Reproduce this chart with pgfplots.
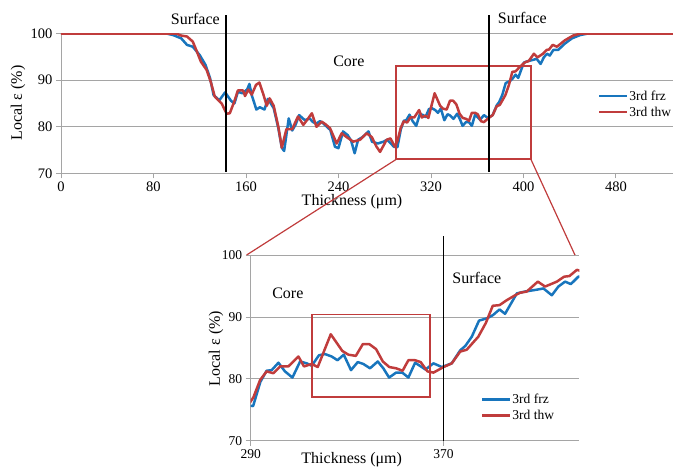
\documentclass[border=0pt]{standalone}
\usepackage{fontspec}
\setmainfont{Liberation Serif}
\usepackage{pgfplots}
\usepackage{pgfplotstable}
\pgfplotsset{compat=1.18}
\definecolor{sblue}{RGB}{24,117,189}
\definecolor{sred}{RGB}{192,60,60}
\definecolor{gridc}{RGB}{165,165,165}

\pgfplotstableread{
x y
52 100
92 100
97 99.7
104 99.0
109 97.6
114 97.2
120 95.4
125 93.3
129 90.4
132 86.8
137 85.7
142 87.4
147 85.6
150 85.0
153 87.5
157 87.2
161 88.0
163 89.2
165 86.8
169 83.7
172 84.2
176 83.7
179 86.0
184 84.0
188 79.7
191 75.5
193 74.8
197 81.8
200 79.2
203 80.5
206 82.5
211 81.4
215 81.8
218 81.0
221 80.7
224 81.2
227 80.7
233 79.3
237 75.7
240 75.4
244 79.0
248 78.2
251 77.0
254 74.3
257 77.2
261 77.8
266 79.0
269 76.8
274 76.4
279 76.8
282 77.2
285 76.5
288 75.7
291 75.6
294 79.5
296.6 81.3
298.7 81.4
301.5 82.6
304.2 81.2
307.3 80.2
310.5 82.8
313.2 82.5
315.3 82.1
318.3 83.8
320.8 84.0
323.6 83.6
326 83.0
328.6 83.9
331.6 81.4
334.4 82.7
336.7 82.4
339.5 81.7
342.7 82.8
345 81.7
347.4 80.2
350.3 81.0
352.9 81.0
355.4 80.2
358.2 82.6
362.5 81.5
365.8 82.5
369.3 81.9
373.4 82.5
376.9 84.6
379 85.3
381.7 86.8
384.7 89.4
388.2 89.8
390.5 90.3
393.2 91.2
395.5 90.5
400.4 93.8
403.8 94.1
408.7 94.4
411.4 94.6
414.9 93.5
417.6 94.9
420.4 95.7
422.8 95.3
425.9 96.5
430 96.5
436 97.9
442 99.0
449 99.7
455 100
463 100
}\frz

\pgfplotstableread{
x y
0 100
100 100
104 99.6
109 99.4
114 98.3
117 96.5
121 94.0
126 92.2
129.5 89.7
133 86.5
139 85.0
143.3 82.8
146 82.9
150 85.5
153 87.8
157.5 87.8
159.2 86.6
162 88.0
165 86.9
168.7 89.0
171.6 89.5
175 87.0
178 84.5
180.5 86.1
184 84.5
188 80.0
191 75.5
195 79.5
200 79.5
205 82.2
209.6 80.4
213 81.5
217 82.9
221 80.0
225.5 81.1
229 80.5
232.7 79.7
238.5 76.4
242.8 78.6
247 77.8
252.8 76.8
258.6 77.2
264.4 78.6
268.8 77.8
273 75.7
276 74.6
281.7 77.2
285 77.5
288.9 75.7
291.1 77.0
293.9 79.8
296.6 81.2
299.4 80.9
302.2 82.0
305.6 82.0
309.8 83.6
312.1 82.0
315.3 82.4
317.8 81.9
323.2 87.2
328 84.5
330.5 83.9
333.6 83.7
336.5 85.6
339.2 85.6
342 84.8
344.8 82.8
347.5 81.9
350.3 81.7
353 81.3
355.4 83.0
358.2 83.0
360.5 82.7
363.3 81.2
365.8 81.0
370 81.9
373.4 82.5
376.9 84.4
379.6 84.7
384.4 86.8
387.5 89.0
390.4 91.8
393.2 91.9
396.2 92.7
399.7 93.5
401.7 93.9
404.5 94.1
409.1 95.7
412.1 94.9
417 95.7
420 96.5
422.2 96.6
425.3 97.6
429 97.2
436 98.6
443 99.6
449 100
530 100
}\thw

\begin{document}
\begin{tikzpicture}
\useasboundingbox (0,0) rectangle (673pt,467pt);
\pgfplotsset{
  exstyle/.style={
    scale only axis, anchor=south west,
    axis x line*=bottom, axis y line*=left,
    axis line style={gridc, line width=0.8pt},
    tick align=outside, major tick length=5pt,
    tick style={gridc, line width=0.8pt},
    ymajorgrids, grid style={gridc, line width=0.8pt},
    ymin=70, ymax=100, ytick={70,80,90,100},
    /pgf/number format/assume math mode=true,
    legend style={draw=none, fill=none, anchor=north west, inner sep=0pt,
      row sep=3pt, cells={anchor=west}, nodes={inner sep=1pt}},
    legend image code/.code={\draw[#1, line width=2.5pt] (0pt,0pt) -- (28pt,0pt);},
    every axis plot/.append style={line width=2.5pt, line join=round},
  }
}
% ---------- top axis ----------
\begin{axis}[exstyle,
  at={(61pt,293.7pt)}, width=612pt, height=139.6pt,
  xmin=0, xmax=529.4, xtick={0,80,...,480},
  tick label style={font=\fontsize{14.5}{16}\selectfont},
  legend style={at={(rel axis cs:0.877,0.60)}, font=\fontsize{13.5}{16}\selectfont},
]
\addplot[sblue] table[x=x,y=y] {\frz};
\addlegendentry{3rd frz}
\addplot[sred] table[x=x,y=y] {\thw};
\addlegendentry{3rd thw}
\draw[sred, line width=1.8pt] (axis cs:290,73) rectangle (axis cs:406.5,93);
\coordinate (boxBL) at (axis cs:290,73);
\coordinate (boxBR) at (axis cs:406.5,73);
\coordinate (s1t) at (axis cs:142.5,104);
\coordinate (s1b) at (axis cs:142.5,70.3);
\coordinate (s2t) at (axis cs:370,104);
\coordinate (s2b) at (axis cs:370,70.3);
\coordinate (core1) at (axis cs:249,94);
\end{axis}
\draw[black, line width=1.6pt] (s1t) -- (s1b);
\draw[black, line width=1.6pt] (s2t) -- (s2b);
\node[font=\fontsize{16}{19}\selectfont, anchor=east, inner sep=0pt] at (220pt,447.7pt) {Surface};
\node[font=\fontsize{16}{19}\selectfont, anchor=west, inner sep=0pt] at (497.7pt,448.7pt) {Surface};
\node[font=\fontsize{16}{19}\selectfont] at (core1) {Core};
\node[font=\fontsize{16}{19}\selectfont, rotate=90] at (18pt,364pt) {Local ε (\%)};
\node[font=\fontsize{16}{19}\selectfont] at (352pt,265pt) {Thickness (μm)};
% ---------- bottom axis ----------
\begin{axis}[exstyle,
  at={(250.7pt,26.3pt)}, width=328.6pt, height=185.7pt,
  xmin=290, xmax=426.3, xtick={290,370},
  tick label style={font=\fontsize{13.5}{16}\selectfont},
  legend style={at={(rel axis cs:0.70,0.257)}, font=\fontsize{13.5}{16}\selectfont},
]
\addplot[sblue] table[x=x,y=y] {\frz};
\addlegendentry{3rd frz}
\addplot[sred] table[x=x,y=y] {\thw};
\addlegendentry{3rd thw}
\draw[sred, line width=1.8pt] (axis cs:315.5,77) rectangle (axis cs:364.5,90.4);
\coordinate (b3t) at (axis cs:370,103);
\coordinate (b3b) at (axis cs:370,70);
\coordinate (bTL) at (axis cs:288.3,100);
\coordinate (bTR) at (axis cs:424.5,100);
\coordinate (core2) at (axis cs:305.4,93.8);
\coordinate (surf2) at (axis cs:383.8,96.3);
\end{axis}
\draw[black, line width=1.6pt] (b3t) -- (b3b);
\draw[sred, line width=1.2pt] (boxBL) -- (bTL);
\draw[sred, line width=1.2pt] (boxBR) -- (bTR);
\node[font=\fontsize{16}{19}\selectfont] at (core2) {Core};
\node[font=\fontsize{16}{19}\selectfont] at (surf2) {Surface};
\node[font=\fontsize{16}{19}\selectfont, rotate=90] at (216pt,118.5pt) {Local ε (\%)};
\node[font=\fontsize{16}{19}\selectfont] at (351.7pt,7pt) {Thickness (μm)};
\end{tikzpicture}
\end{document}
